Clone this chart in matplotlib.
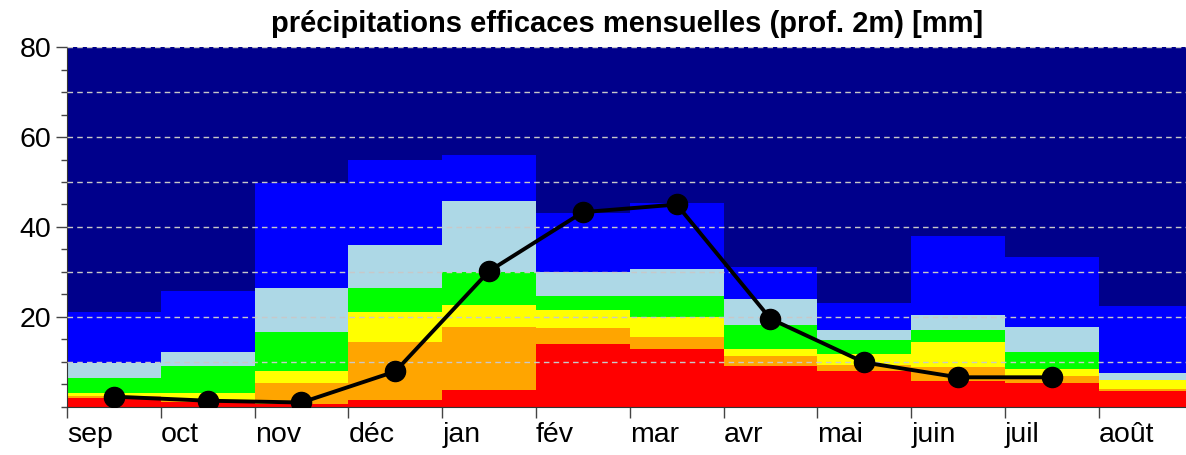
import matplotlib
matplotlib.use("Agg")
import matplotlib.pyplot as plt
import numpy as np

plt.rcParams["font.family"] = ["Liberation Sans", "DejaVu Sans"]

months = ["sep", "oct", "nov", "déc", "jan", "fév", "mar", "avr", "mai", "juin", "juil", "août"]

# cumulative upper bounds of each coloured band, per month
red       = [2.0, 1.2, 0.6, 1.5, 3.8, 13.9, 12.9, 9.1, 8.0, 5.8, 5.3, 3.6]
orange    = [2.5, 1.5, 5.3, 14.4, 17.7, 17.6, 15.6, 11.3, 9.3, 8.8, 6.9, 4.1]
yellow    = [3.2, 3.0, 8.0, 21.0, 22.6, 21.6, 19.9, 12.8, 11.8, 14.4, 8.4, 6.0]
green     = [6.5, 9.0, 16.6, 26.4, 30.0, 24.7, 24.7, 18.2, 14.9, 17.1, 12.3, 6.0]
lightblue = [9.7, 12.3, 26.4, 35.9, 45.8, 30.1, 30.6, 24.1, 17.1, 20.4, 17.7, 7.5]
blue      = [21.0, 25.8, 49.7, 54.9, 56.0, 43.0, 45.3, 31.2, 23.0, 38.1, 33.4, 22.5]
top       = [80] * 12

# black line (months sep..juil)
line_vals = [2.3, 1.4, 1.0, 7.9, 30.2, 43.3, 45.0, 19.6, 9.9, 6.6, 6.6]

fig = plt.figure(figsize=(11.86, 4.55), dpi=100)
ax = fig.add_axes([0.0565, 0.1055, 0.9435, 0.7912])

edges = np.arange(len(months) + 1)
bands = [red, orange, yellow, green, lightblue, blue, top]
colors = ["#ff0000", "#ffa500", "#ffff00", "#00ff00", "#add8e6", "#0000ff", "#00008b"]
base = np.zeros(len(months))
for vals, c in zip(bands, colors):
    v = np.array(vals, dtype=float)
    ax.stairs(v, edges, baseline=base, fill=True, color=c, linewidth=0, zorder=1)
    base = v

for yv in range(10, 81, 10):
    ax.axhline(yv, color="#c8c8c8", linestyle=(0, (4, 3)), linewidth=1.0, zorder=3)

xc = np.arange(len(line_vals)) + 0.5
ax.plot(xc, line_vals, color="black", linewidth=2.8, marker="o", markersize=14.5, zorder=4)

ax.set_xlim(0, 11.93)
ax.set_ylim(0, 80)
ax.set_yticks([20, 40, 60, 80])
ax.set_yticks(np.arange(0, 81, 5), minor=True)
ax.tick_params(axis="y", which="major", labelsize=20.5, length=8, width=1, direction="out", color="#444444")
ax.tick_params(axis="y", which="minor", length=4, width=1, direction="out", color="#444444")
ax.set_xticks(edges[:-1])
ax.set_xticklabels(months, ha="left")
ax.tick_params(axis="x", labelsize=20.5, length=8, width=1, direction="out", color="#444444", pad=3)
for s in ["top", "right"]:
    ax.spines[s].set_visible(False)
ax.spines["left"].set_color("#333333")
ax.spines["bottom"].set_color("#333333")

fig.text(0.529, 0.948, "précipitations efficaces mensuelles (prof. 2m) [mm]",
         ha="center", va="center", fontsize=21, fontweight="bold")

fig.savefig("out.png", dpi=100)
